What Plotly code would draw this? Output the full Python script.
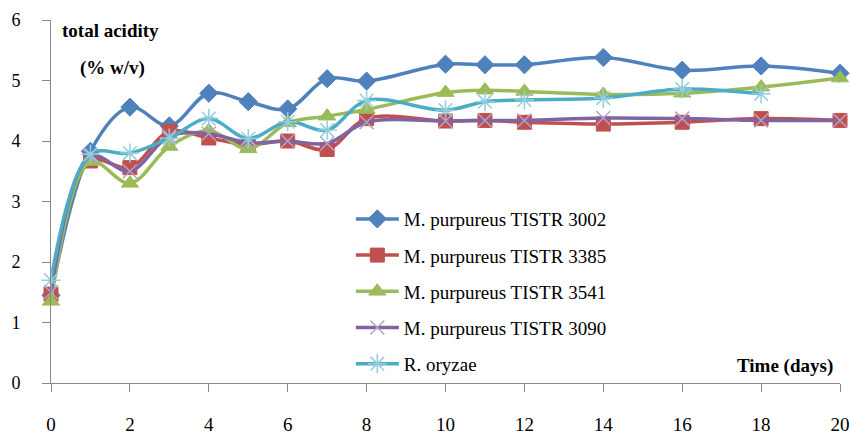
import plotly.graph_objects as go

days = [0, 1, 2, 3, 4, 5, 6, 7, 8, 10, 11, 12, 14, 16, 18, 20]
days_oryzae = [0, 1, 2, 3, 4, 5, 6, 7, 8, 10, 11, 12, 14, 16, 18]

tistr_3002 = [1.45, 3.83, 4.56, 4.25, 4.79, 4.65, 4.53, 5.03, 4.99, 5.27, 5.26, 5.26, 5.38, 5.17, 5.24, 5.12]
tistr_3385 = [1.47, 3.67, 3.56, 4.16, 4.05, 3.94, 4.0, 3.86, 4.37, 4.33, 4.34, 4.31, 4.28, 4.31, 4.37, 4.34]
tistr_3541 = [1.35, 3.66, 3.3, 3.91, 4.17, 3.87, 4.3, 4.41, 4.52, 4.8, 4.84, 4.82, 4.77, 4.79, 4.89, 5.04]
tistr_3090 = [1.5, 3.75, 3.5, 4.08, 4.12, 3.97, 4.0, 3.96, 4.31, 4.33, 4.34, 4.34, 4.38, 4.37, 4.34, 4.34]
r_oryzae = [1.7, 3.78, 3.8, 4.05, 4.37, 4.04, 4.32, 4.18, 4.67, 4.51, 4.65, 4.68, 4.71, 4.86, 4.78]

names = ["M. purpureus TISTR 3002", "M. purpureus TISTR 3385", "M. purpureus TISTR 3541",
         "M. purpureus TISTR 3090", "R. oryzae"]
x_ticks = list(range(0, 21, 2))
y_ticks = list(range(0, 7))

series = [
    (days, tistr_3002, "#4F81BD", "diamond", 14, "#4F81BD", 1),
    (days, tistr_3385, "#C0504D", "square", 14, "#C0504D", 1),
    (days, tistr_3541, "#9BBB59", "triangle-up", 15, "#9BBB59", 1),
    (days, tistr_3090, "#8064A2", "x-thin-open", 14, "#B3A2C7", 1.5),
    (days_oryzae, r_oryzae, "#4BACC6", "asterisk-open", 16, "#93CDDD", 1.5),
]

SERIF = "Liberation Serif, Times New Roman, serif"

fig = go.Figure()
for i, ((xs, ys, color, sym, size, mcol, mlw), name) in enumerate(zip(series, names)):
    fig.add_trace(go.Scatter(
        x=xs, y=ys, name=name, mode="lines+markers",
        line=dict(color=color, width=3.5, shape="spline", smoothing=1.0),
        marker=dict(symbol=sym, size=size, color=mcol, line=dict(color=mcol, width=mlw)),
        cliponaxis=False, legendgroup=f"g{i}",
    ))

fig.update_layout(
    width=851, height=435,
    margin=dict(l=51, r=11, t=20, b=52),
    paper_bgcolor="white", plot_bgcolor="white",
    font=dict(family=SERIF, size=18, color="black"),
    showlegend=True,
    legend=dict(x=0.380, y=0.504, xanchor="left", yanchor="top",
                font=dict(family=SERIF, size=19, color="black"),
                tracegroupgap=8.5, itemwidth=43, bgcolor="rgba(0,0,0,0)"),
    xaxis=dict(range=[0, 20], tickvals=x_ticks, ticks="outside", ticklen=8,
               tickcolor="#888888", showline=True, linecolor="#888888", linewidth=1,
               showgrid=False, zeroline=False, ticklabelstandoff=16, automargin=False,
               tickfont=dict(family=SERIF, size=19, color="black")),
    yaxis=dict(range=[0, 6], tickvals=y_ticks, ticks="outside", ticklen=8,
               tickcolor="#888888", showline=True, linecolor="#888888", linewidth=1,
               showgrid=False, zeroline=False, ticklabelstandoff=18, automargin=False,
               tickfont=dict(family=SERIF, size=18, color="black")),
    annotations=[
        dict(text="<b>total acidity</b>", xref="paper", yref="paper", x=0.011, y=0.972,
             xanchor="left", yanchor="middle", showarrow=False,
             font=dict(family=SERIF, size=19, color="black")),
        dict(text="<b>(% w/v)</b>", xref="paper", yref="paper", x=0.034, y=0.868,
             xanchor="left", yanchor="middle", showarrow=False,
             font=dict(family=SERIF, size=19, color="black")),
        dict(text="<b>Time (days)</b>", xref="paper", yref="paper", x=0.994, y=0.047,
             xanchor="right", yanchor="middle", showarrow=False,
             font=dict(family=SERIF, size=19, color="black")),
    ],
)

fig.write_html("out.html")
